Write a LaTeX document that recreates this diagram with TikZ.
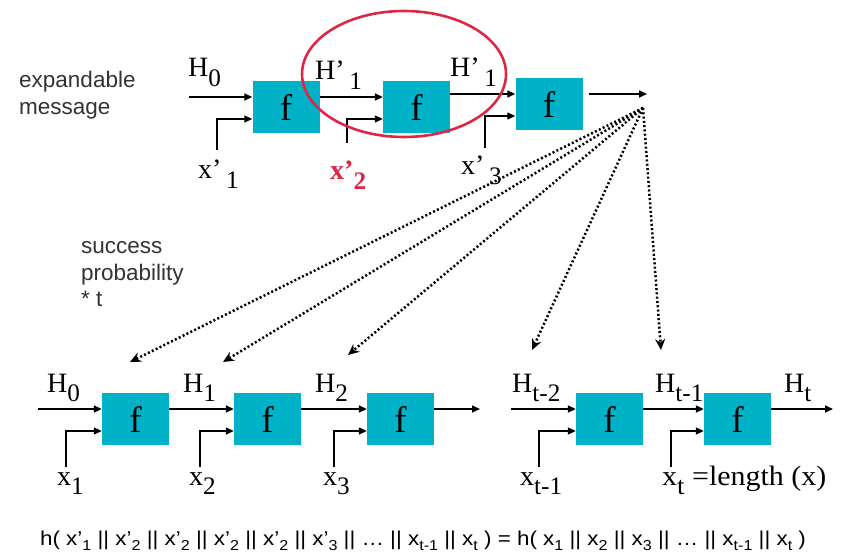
\documentclass[tikz,border=0pt]{standalone}
\usepackage{fontspec}
\setmainfont{Liberation Serif}
\newfontfamily\notefont{Liberation Sans}
\usetikzlibrary{arrows.meta,shapes.geometric}
\definecolor{fcyan}{HTML}{00B2C8}
\definecolor{markred}{HTML}{DC2846}
\definecolor{notegray}{HTML}{333333}
% lowered index in the running text font
\newcommand\lowsub[1]{\raisebox{-0.34em}{\scalebox{0.9}{#1}}}
% small index for the hash equation
\newcommand\eqsub[1]{\raisebox{-0.28em}{\scalebox{0.72}{#1}}}

\begin{document}
\begin{tikzpicture}[x=1pt,y=-1pt,
  fblock/.style={fill=fcyan, minimum width=67pt, minimum height=52pt, inner sep=0pt,
                 font=\fontsize{37}{37}\selectfont},
  flow/.style={line width=1.6pt, -{Triangle[length=8pt,width=7pt]}},
  feed/.style={line width=1.3pt, -{Triangle[length=8pt,width=7pt]}},
  fan/.style={line width=2.5pt, dash pattern=on 2pt off 2.3pt,
              -{Stealth[length=11pt,width=10pt]}},
  lbl/.style={font=\fontsize{28}{28}\selectfont, inner sep=0pt, anchor=base west},
  note/.style={font=\notefont\fontsize{22.5}{22.5}\selectfont, text=notegray,
               inner sep=0pt, anchor=base west},
  hin/.style={yshift=10pt},
  xin/.style={yshift=-12pt},
]
\useasboundingbox (0,0) rectangle (845,553);
\fill[white] (0,0) rectangle (845,553);

% ---------- expandable message chain ----------
\node[fblock] (t1) at (286,107) {f};
\node[fblock] (t2) at (416.5,107) {f};
\node[fblock] (t3) at (549,104) {f};

\coordinate (th0) at (189,97);
\coordinate (tx1) at (217,150);
\coordinate (tx2) at (347,143);
\coordinate (tx3) at (485,148);
\coordinate (tout) at (647,94);
\coordinate (hub) at (643,108);

\draw[flow] (th0) -- ([hin]t1.west);
\draw[feed] (tx1) |- ([xin]t1.west);
\draw[flow] ([hin]t1.east) -- ([hin]t2.west);
\draw[feed] (tx2) |- ([xin]t2.west);
\draw[flow] ([hin]t3.west -| t2.east) -- ([hin]t3.west);
\draw[feed] (tx3) |- ([xin]t3.west);
\draw[flow] ([hin,xshift=6pt]t3.east) -- (tout);

\node[draw=markred, line width=2.6pt, ellipse, minimum width=204pt,
      minimum height=126pt, inner sep=0pt] (focus) at (404,74) {};

\node[lbl] (lh0) at (188,77) {H\lowsub{0}};
\node[lbl] (lh1) at (315,80) {H’\,\lowsub{1}};
\node[lbl] (lh1b) at (450,77) {H’\,\lowsub{1}};
\node[lbl] (lx1) at (198,179) {x’\,\lowsub{1}};
\node[lbl, text=markred, font=\bfseries\fontsize{28}{28}\selectfont] (lx2) at (330,180) {x’\lowsub{2}};
\node[lbl] (lx3) at (461,175) {x’\,\lowsub{3}};

\node[note] (em1) at (19,88) {expandable};
\node[note] (em2) at (19,115) {message};

\node[note] (sp1) at (81,254) {success};
\node[note] (sp2) at (81,280) {probability};
\node[note] (sp3) at (81,306) {* t};

% ---------- plain message chain ----------
\node[fblock] (b1) at (135.5,419) {f};
\node[fblock] (b2) at (267.5,419) {f};
\node[fblock] (b3) at (400.5,419) {f};
\node[fblock] (b4) at (609.5,419) {f};
\node[fblock] (b5) at (737.5,419) {f};

\coordinate (bh0) at (38,409);
\coordinate (bend3) at (480,409);
\coordinate (bht2) at (511,409);
\coordinate (bhout) at (833,409);
\coordinate (bx1) at (66,467);
\coordinate (bx2) at (200,467);
\coordinate (bx3) at (334,467);
\coordinate (bx4) at (539,467);
\coordinate (bx5) at (671,467);

\draw[flow] (bh0) -- ([hin]b1.west);
\draw[flow] ([hin]b1.east) -- ([hin]b2.west);
\draw[flow] ([hin]b2.east) -- ([hin]b3.west);
\draw[flow] ([hin]b3.east) -- (bend3);
\draw[flow] (bht2) -- ([hin]b4.west);
\draw[flow] ([hin]b4.east) -- ([hin]b5.west);
\draw[flow] ([hin]b5.east) -- (bhout);
\draw[feed] (bx1) |- ([xin]b1.west);
\draw[feed] (bx2) |- ([xin]b2.west);
\draw[feed] (bx3) |- ([xin]b3.west);
\draw[feed] (bx4) |- ([xin]b4.west);
\draw[feed] (bx5) |- ([xin]b5.west);

\node[lbl] (bl0) at (47,392) {H\lowsub{0}};
\node[lbl] (bl1) at (183,392) {H\lowsub{1}};
\node[lbl] (bl2) at (315,392) {H\lowsub{2}};
\node[lbl] (bl3) at (512,392) {H\lowsub{t-2}};
\node[lbl] (bl4) at (655,392) {H\lowsub{t-1}};
\node[lbl] (bl5) at (784,392) {H\lowsub{t}};

\node[lbl] (bxl1) at (57,485) {x\lowsub{1}};
\node[lbl] (bxl2) at (189,485) {x\lowsub{2}};
\node[lbl] (bxl3) at (323,485) {x\lowsub{3}};
\node[lbl] (bxl4) at (520,485) {x\lowsub{t-1}};
\node[lbl] (bxl5) at (662,485) {\scalebox{1.07}[1]{x\lowsub{t} =length (x)}};

% ---------- fan-out from the long message ----------
\coordinate (d1) at (130,362);
\coordinate (d2) at (223,362);
\coordinate (d3) at (348,355);
\coordinate (d4) at (532,350);
\coordinate (d5) at (661,350);
\foreach \t in {d1,d2,d3,d4,d5}
  \draw[fan] (hub) -- (\t);

% ---------- resulting collision ----------
\node[note, text=black, anchor=base, font=\notefont\fontsize{20}{20}\selectfont] (coll) at (423,545)
  {\scalebox{1.12}[1]{h( x’\eqsub{1} || x’\eqsub{2} || x’\eqsub{2} || x’\eqsub{2} || x’\eqsub{2} || x’\eqsub{3} || … || x\eqsub{t-1} || x\eqsub{t} ) = h( x\eqsub{1} || x\eqsub{2} || x\eqsub{3} || … || x\eqsub{t-1} || x\eqsub{t} )}};
\end{tikzpicture}
\end{document}
